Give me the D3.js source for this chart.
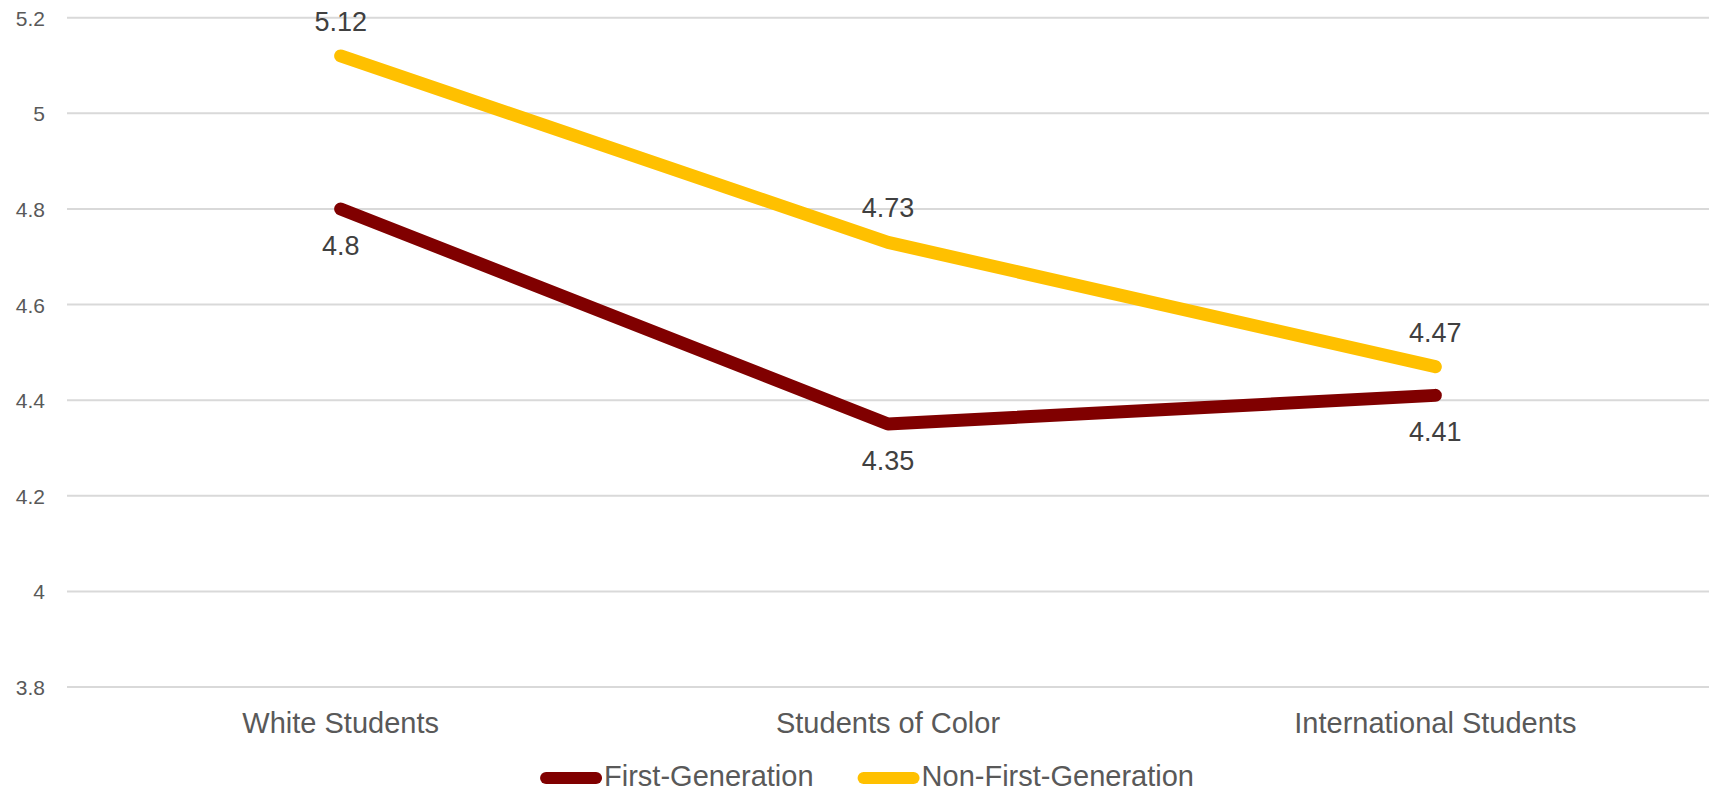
<!DOCTYPE html>
<html>
<head>
<meta charset="utf-8">
<script src="https://cdn.jsdelivr.net/npm/d3@7"></script>
<style>
  html, body { margin: 0; padding: 0; background: #fff; }
  svg { display: block; font-family: "Liberation Sans", Arial, sans-serif; }
</style>
</head>
<body>
<svg id="chart" width="1711" height="793"></svg>
<script>
// Mean scores by student group
const categories = ["White Students", "Students of Color", "International Students"];
const firstGen = [4.8, 4.35, 4.41];
const nonFirstGen = [5.12, 4.73, 4.47];
const yTicks = [3.8, 4, 4.2, 4.4, 4.6, 4.8, 5, 5.2];

const series = [
  { name: "First-Generation", values: firstGen, color: "#800000", labelPos: "below" },
  { name: "Non-First-Generation", values: nonFirstGen, color: "#FFC000", labelPos: "above" }
];

const W = 1711, H = 793;
const plot = { left: 67, right: 1709, top: 17.7, bottom: 687 };

const svg = d3.select("#chart");

const x = d3.scaleBand().domain(categories).range([plot.left, plot.right]);
const y = d3.scaleLinear().domain([3.8, 5.2]).range([plot.bottom, plot.top]);
const cx = c => x(c) + x.bandwidth() / 2;

// Horizontal gridlines
svg.append("g")
  .selectAll("line")
  .data(yTicks)
  .join("line")
  .attr("x1", plot.left).attr("x2", plot.right)
  .attr("y1", d => y(d)).attr("y2", d => y(d))
  .attr("stroke", "#d9d9d9").attr("stroke-width", 2);

// Y axis labels
const yAxis = d3.axisLeft(y).tickValues(yTicks).tickSize(0).tickPadding(0)
  .tickFormat(d => d3.format("")(+d.toFixed(1)));
svg.append("g")
  .attr("transform", `translate(45,0)`)
  .call(yAxis)
  .call(g => g.select(".domain").remove())
  .call(g => g.selectAll("text")
    .attr("font-family", "'Liberation Sans', Arial, sans-serif")
    .attr("font-size", 21).attr("fill", "#595959").attr("dy", "0.36em"));

// X axis labels
const xAxis = d3.axisBottom(x).tickSize(0).tickPadding(0);
svg.append("g")
  .call(xAxis)
  .call(g => g.select(".domain").remove())
  .call(g => g.selectAll("text")
    .attr("font-family", "'Liberation Sans', Arial, sans-serif")
    .attr("font-size", 29).attr("fill", "#595959")
    .attr("y", 733).attr("dy", 0));

// Series lines
const line = d3.line()
  .x((d, i) => cx(categories[i]))
  .y(d => y(d));

svg.append("g")
  .selectAll("path")
  .data(series)
  .join("path")
  .attr("d", s => line(s.values))
  .attr("fill", "none")
  .attr("stroke", s => s.color)
  .attr("stroke-width", 13)
  .attr("stroke-linecap", "round")
  .attr("stroke-linejoin", "round");

// Data labels
series.forEach(s => {
  svg.append("g")
    .selectAll("text")
    .data(s.values)
    .join("text")
    .attr("x", (d, i) => cx(categories[i]))
    .attr("y", d => y(d) + (s.labelPos === "above" ? -25 : 46))
    .attr("text-anchor", "middle")
    .attr("font-size", 27)
    .attr("fill", "#404040")
    .text(d => d);
});

// Legend
const legend = svg.append("g");
const legendCenter = 867, legendY = 778, swatchW = 62, gapAfterSwatch = 2, itemGap = 44;
const items = legend.selectAll("g.item")
  .data(series)
  .join("g")
  .attr("class", "item");
items.append("line")
  .attr("x1", 6).attr("x2", swatchW - 6)
  .attr("y1", legendY).attr("y2", legendY)
  .attr("stroke", s => s.color)
  .attr("stroke-width", 12)
  .attr("stroke-linecap", "round");
items.append("text")
  .attr("x", swatchW + gapAfterSwatch)
  .attr("y", 786)
  .attr("font-size", 29)
  .attr("fill", "#595959")
  .text(s => s.name);

const widths = [];
items.each(function() {
  const t = d3.select(this).select("text").node().getComputedTextLength();
  widths.push(swatchW + gapAfterSwatch + t);
});
const total = d3.sum(widths) + itemGap * (widths.length - 1);
let offset = legendCenter - total / 2;
items.attr("transform", (d, i) => {
  const tx = offset;
  offset += widths[i] + itemGap;
  return `translate(${tx},0)`;
});
</script>
</body>
</html>
